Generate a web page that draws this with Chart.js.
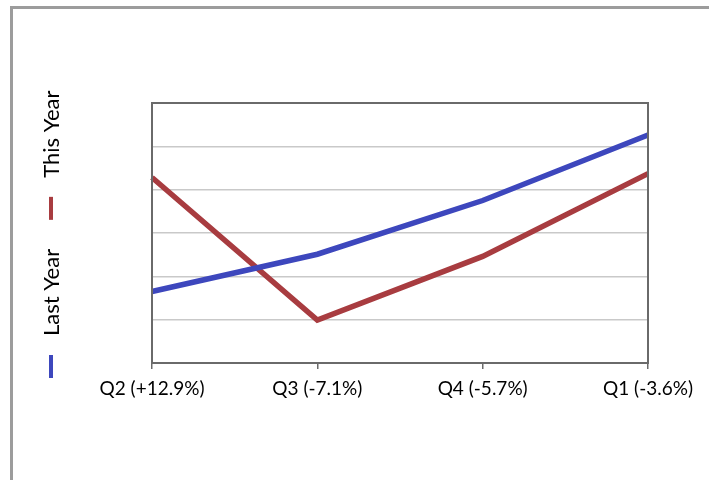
<!DOCTYPE html>
<html>
<head>
<meta charset="utf-8">
<script src="https://cdn.jsdelivr.net/npm/chart.js@4/dist/chart.umd.min.js"></script>
<style>
  html, body { margin: 0; padding: 0; background: #fff; }
  #wrap { position: relative; width: 709px; height: 480px; overflow: hidden; }
  #frame { position: absolute; left: 10px; top: 6px; width: 760px; height: 540px;
           border: 3px solid #9c9c9c; box-sizing: border-box; }
  canvas { position: absolute; left: 0; top: 0; }
</style>
</head>
<body>
<div id="wrap">
  <div id="frame"></div>
  <canvas id="c" width="709" height="480"></canvas>
</div>
<script>
// Quarter labels with change figures
const quarters = ['Q2 (+12.9%)', 'Q3 (-7.1%)', 'Q4 (-5.7%)', 'Q1 (-3.6%)'];
// Series values
const lastYear = [1.65, 2.51, 3.75, 5.26];
const thisYear = [4.28, 0.99, 2.46, 4.37];
const seriesNames = ['Last Year', 'This Year'];
const seriesColors = ['#3d47bd', '#a83c40'];

const FONT = 'Lato, "Open Sans", sans-serif';

// Box around the plotting area
const plotFrame = {
  id: 'plotFrame',
  afterDatasetsDraw(chart) {
    const a = chart.chartArea, ctx = chart.ctx;
    ctx.save();
    ctx.strokeStyle = '#6a6a6a';
    ctx.lineWidth = 2;
    ctx.strokeRect(a.left, a.top, a.right - a.left, a.bottom - a.top);
    ctx.restore();
  }
};

// Vertical legend on the left, read bottom to top
const sideLegend = {
  id: 'sideLegend',
  afterDraw(chart) {
    const ctx = chart.ctx;
    const x = 51;
    let y = 378;
    ctx.save();
    ctx.font = '22px ' + FONT;
    ctx.textBaseline = 'alphabetic';
    chart.data.datasets.forEach(ds => {
      ctx.strokeStyle = ds.borderColor;
      ctx.lineWidth = 4;
      ctx.beginPath();
      ctx.moveTo(x, y);
      ctx.lineTo(x, y - 23);
      ctx.stroke();
      y -= 23 + 19;
      ctx.save();
      ctx.translate(x + 8, y);
      ctx.rotate(-Math.PI / 2);
      ctx.fillStyle = '#000';
      ctx.textAlign = 'left';
      ctx.fillText(ds.label, 0, 0);
      const w = ctx.measureText(ds.label).width;
      ctx.restore();
      y -= w + 29;
    });
    ctx.restore();
  }
};

new Chart(document.getElementById('c'), {
  type: 'line',
  data: {
    labels: quarters,
    datasets: [
      { label: seriesNames[0], data: lastYear, borderColor: seriesColors[0], backgroundColor: seriesColors[0],
        borderWidth: 5.5, pointRadius: 0, tension: 0, borderCapStyle: 'butt' },
      { label: seriesNames[1], data: thisYear, borderColor: seriesColors[1], backgroundColor: seriesColors[1],
        borderWidth: 5.5, pointRadius: 0, tension: 0, borderCapStyle: 'butt' }
    ]
  },
  options: {
    responsive: false,
    animation: false,
    layout: { padding: { left: 152, right: 61, top: 103, bottom: 0 } },
    plugins: { legend: { display: false }, tooltip: { enabled: false } },
    scales: {
      x: {
        offset: false,
        grid: { display: true, drawOnChartArea: false, drawTicks: true, tickLength: 6, color: '#6a6a6a', lineWidth: 1.5 },
        border: { display: true, color: '#6a6a6a', width: 2 },
        ticks: { color: '#000', font: { family: FONT, size: 19 }, padding: 8, maxRotation: 0, autoSkip: false },
        afterFit(scale) { scale.height = 117; }
      },
      y: {
        min: 0, max: 6,
        grid: { color: '#c9c9c9', lineWidth: 1.5, drawTicks: false },
        border: { display: true, color: '#6a6a6a', width: 2 },
        ticks: { display: false, stepSize: 1 },
        afterFit(scale) { scale.width = 0; }
      }
    }
  },
  plugins: [plotFrame, sideLegend]
});
</script>
</body>
</html>
